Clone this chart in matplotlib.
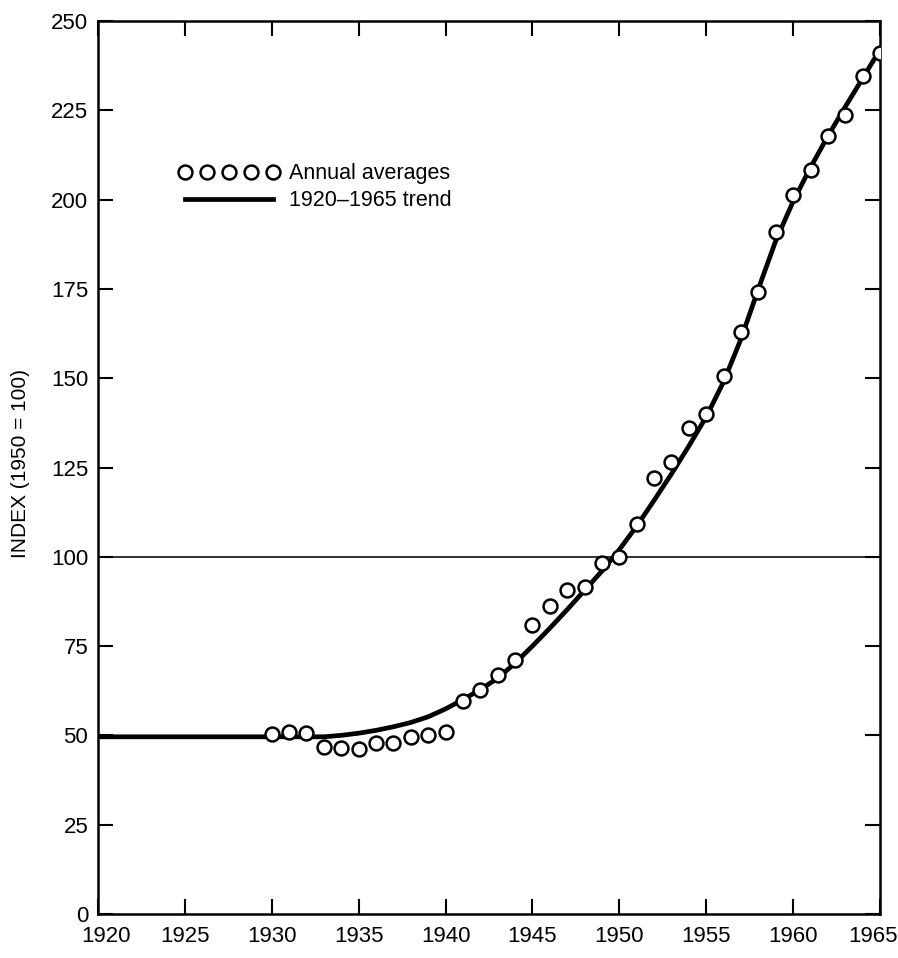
import matplotlib.pyplot as plt
from matplotlib.lines import Line2D
from matplotlib.transforms import ScaledTranslation

# Annual averages (index, 1950 = 100)
YEARS = list(range(1930, 1966))
ANNUAL = [50.4, 51.0, 50.7, 46.8, 46.4, 46.2, 47.8, 48.0, 49.5, 50.1,
          51.0, 59.7, 62.7, 66.9, 71.1, 80.9, 86.3, 90.7, 91.6, 98.2,
          100.0, 109.2, 122.0, 126.5, 136.0, 139.9, 150.6, 163.0, 174.2, 191.0,
          201.3, 208.3, 217.8, 223.7, 234.6, 241.2]

# 1920-1965 trend, read at each year
TREND_YEARS = list(range(1920, 1966))
TREND = [49.6, 49.6, 49.6, 49.6, 49.6, 49.6, 49.6, 49.6, 49.6, 49.6,
         49.6, 49.6, 49.6, 49.6, 50.0, 50.6, 51.4, 52.4, 53.6, 55.2,
         57.4, 60.0, 62.8, 66.0, 70.2, 75.0, 80.0, 85.2, 90.6, 96.0,
         102.0, 108.6, 115.8, 123.2, 131.0, 139.2, 149.0, 161.0, 175.0, 188.5,
         199.5, 209.0, 217.8, 226.0, 234.0, 242.0]

XTICKS = list(range(1920, 1966, 5))
YTICKS = list(range(0, 251, 25))

plt.rcParams['font.family'] = ['Liberation Sans', 'DejaVu Sans']

fig = plt.figure(figsize=(8.98, 9.58), dpi=100)
ax = fig.add_axes([0.109, 0.046, 0.871, 0.932])

ax.axhline(100, color='#222222', lw=1.3, zorder=1)
ax.plot(TREND_YEARS, TREND, color='black', lw=3.4, solid_capstyle='butt', zorder=2)
ax.plot(YEARS, ANNUAL, linestyle='none', marker='o', ms=10, mfc='white',
        mec='black', mew=1.8, zorder=3)

ax.set_xlim(1920, 1965)
ax.set_ylim(0, 250)
ax.set_xticks(XTICKS)
ax.set_yticks(YTICKS)
ax.tick_params(direction='in', length=10.5, width=1.5, labelsize=16,
               top=True, right=True)
ax.tick_params(axis='y', pad=7)
ax.tick_params(axis='x', pad=9)
for s in ax.spines.values():
    s.set_linewidth(1.8)

# nudge the end labels inward, as in the original
xlabels = ax.get_xticklabels()
xlabels[0].set_transform(xlabels[0].get_transform()
                         + ScaledTranslation(6 / 72, 0, fig.dpi_scale_trans))
xlabels[-1].set_transform(xlabels[-1].get_transform()
                          + ScaledTranslation(-5 / 72, 0, fig.dpi_scale_trans))

ax.set_ylabel('INDEX (1950 = 100)', fontsize=15)
ax.yaxis.set_label_coords(-0.087, 0.505)

handles = [
    Line2D([], [], linestyle='none', marker='o', ms=10, mfc='white',
           mec='black', mew=1.8),
    Line2D([], [], color='black', lw=3.4),
]
ax.legend(handles, ['Annual averages', '1920\u20131965 trend'],
          loc='upper left', bbox_to_anchor=(0.103, 0.841), frameon=False,
          numpoints=5, handlelength=4.7, handletextpad=0.45,
          labelspacing=0.28, fontsize=15.5, borderaxespad=0, borderpad=0)

fig.savefig('out.png', dpi=100)
